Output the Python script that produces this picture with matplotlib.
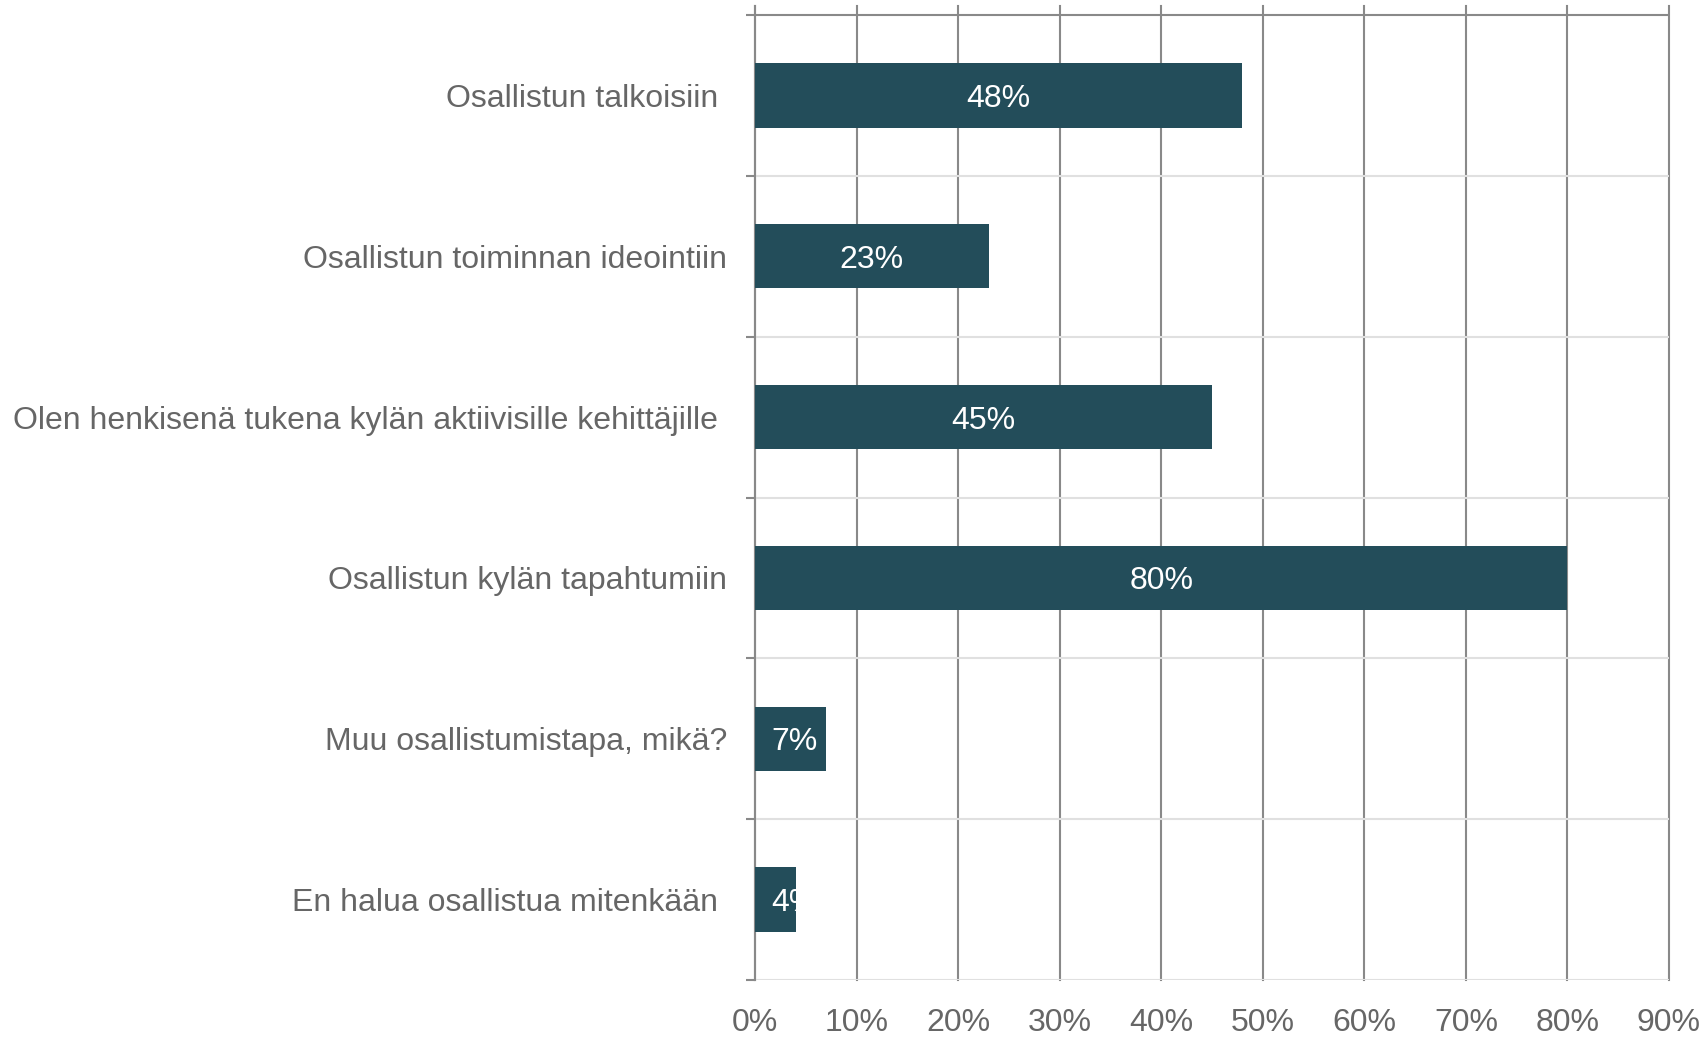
import matplotlib
matplotlib.use("Agg")
import matplotlib.pyplot as plt
from matplotlib.ticker import FixedLocator

# --- data ---
categories = [
    "Osallistun talkoisiin ",
    "Osallistun toiminnan ideointiin",
    "Olen henkisenä tukena kylän aktiivisille kehittäjille ",
    "Osallistun kylän tapahtumiin",
    "Muu osallistumistapa, mikä?",
    "En halua osallistua mitenkään ",
]
values = [48, 23, 45, 80, 7, 4]
xticks = [0, 10, 20, 30, 40, 50, 60, 70, 80, 90]
xtick_labels = [f"{t}%" for t in xticks]

# --- style ---
bar_color = "#234d5a"
grid_dark = "#898989"
grid_light = "#e0e0e0"
text_color = "#666666"
fs = 23

plt.rcParams["font.family"] = ["Liberation Sans", "DejaVu Sans"]

W, H = 1706, 1037
fig = plt.figure(figsize=(W / 100, H / 100), dpi=100)
left, right = 755 / W, 1669 / W
top_px, bottom_px = 6, 980
ax = fig.add_axes([left, 1 - bottom_px / H, right - left, (bottom_px - top_px) / H])

n = len(categories)
ypos = list(range(n))
band_px = (bottom_px - 15) / n
extra = (15 - top_px) / band_px

bars = ax.barh(ypos, values, height=0.4, color=bar_color, zorder=3)
ax.set_xlim(0, 90)
ax.set_ylim(n - 0.5, -0.5 - extra)

# value labels, clipped to the bar
for b, v in zip(bars, values):
    xc = max(v / 2, 3.85)
    t = ax.text(xc, b.get_y() + b.get_height() / 2, f"{v}%", ha="center",
                va="center_baseline", color="white", fontsize=fs, zorder=4)
    t.set_clip_path(b)

# vertical grid
ax.set_xticks(xticks)
ax.set_xticklabels(xtick_labels)
ax.grid(axis="x", color=grid_dark, linewidth=1.5, zorder=1)
ax.set_axisbelow(True)
for gl in ax.get_xgridlines():
    gl.set_clip_on(False)

# horizontal category separators
bounds = [i - 0.5 for i in range(n + 1)]
for i, yb in enumerate(bounds):
    ax.axhline(yb, color=grid_dark if i == 0 else grid_light, linewidth=1.5, zorder=2)

# y labels at centers, small ticks at boundaries
ax.set_yticks(ypos)
ax.set_yticklabels(categories)
ax.yaxis.set_minor_locator(FixedLocator(bounds))
ax.tick_params(axis="y", which="major", length=0, pad=20, labelsize=fs, labelcolor=text_color)
ax.tick_params(axis="y", which="minor", length=6.5, width=1.5, color=grid_dark)
ax.tick_params(axis="x", length=0, pad=20, labelsize=fs, labelcolor=text_color)

for s in ["top", "right", "bottom"]:
    ax.spines[s].set_visible(False)
ax.spines["left"].set_color(grid_dark)
ax.spines["left"].set_linewidth(1.5)
ax.spines["left"].set_zorder(2)

fig.savefig("out.png", dpi=100, facecolor="white")
